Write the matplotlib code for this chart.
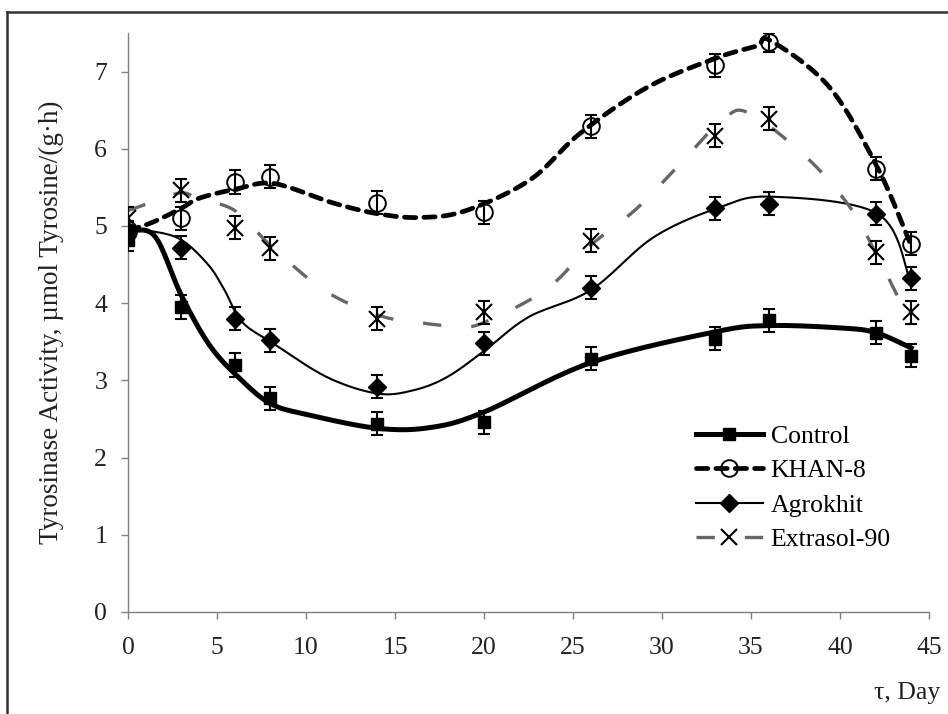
import matplotlib
matplotlib.use("Agg")
import matplotlib.pyplot as plt
from matplotlib.lines import Line2D
import numpy as np

plt.rcParams['font.family'] = ['Liberation Serif', 'DejaVu Serif']

# sampling days and measured values (markers)
days = [0, 3, 6, 8, 14, 20, 26, 33, 36, 42, 44]
control = [4.82, 3.95, 3.20, 2.77, 2.44, 2.46, 3.28, 3.54, 3.78, 3.62, 3.32]
khan8 = [4.92, 5.10, 5.57, 5.64, 5.30, 5.18, 6.29, 7.08, 7.38, 5.74, 4.77]
agrokhit = [4.93, 4.72, 3.80, 3.52, 2.92, 3.48, 4.20, 5.23, 5.29, 5.16, 4.32]
extrasol = [5.11, 5.46, 4.98, 4.71, 3.80, 3.88, 4.81, 6.17, 6.39, 4.66, 3.88]

control_err = [0.15, 0.15, 0.15, 0.15, 0.15, 0.15, 0.15, 0.15, 0.15, 0.15, 0.15]
khan8_err = [0.13, 0.15, 0.15, 0.15, 0.15, 0.15, 0.15, 0.15, 0.12, 0.15, 0.15]
agrokhit_err = [0.13, 0.15, 0.15, 0.15, 0.15, 0.15, 0.15, 0.15, 0.15, 0.15, 0.15]
extrasol_err = [0.13, 0.15, 0.15, 0.15, 0.15, 0.15, 0.15, 0.15, 0.15, 0.15, 0.15]

# trend curves (knots of the smoothed lines)
control_cx = [0, 1.5, 3, 4.6, 6.3, 8, 10, 14, 17, 20, 26, 33, 36, 40, 42, 44]
control_cy = [4.93, 4.87, 4.10, 3.45, 3.02, 2.70, 2.56, 2.38, 2.39, 2.59, 3.23, 3.63, 3.71, 3.68, 3.62, 3.42]

khan8_cx = [0, 1.4, 3, 4, 6.1, 8.2, 11.5, 14, 16.4, 19, 22.6, 25.4, 29.2, 33.1, 35.3, 36.1, 39.4, 42.1, 43.9]
khan8_cy = [4.94, 5.05, 5.23, 5.36, 5.48, 5.55, 5.30, 5.16, 5.11, 5.20, 5.60, 6.20, 6.80, 7.18, 7.33, 7.40, 6.80, 5.76, 4.80]

agrokhit_cx = [0, 1.4, 3, 4.5, 5.4, 6.4, 8.15, 11.2, 14, 16, 17.9, 20, 22.5, 26, 29.5, 33.1, 36.1, 42.1, 43.9]
agrokhit_cy = [4.94, 4.93, 4.82, 4.50, 4.18, 3.76, 3.48, 3.04, 2.83, 2.87, 3.04, 3.38, 3.82, 4.17, 4.85, 5.23, 5.38, 5.16, 4.33]

extrasol_cx = [0, 1.5, 3, 4, 6, 8, 11, 14, 16, 18.5, 20, 23.5, 26, 28.6, 31.2, 33.5, 35, 38.3, 40.7, 42, 43, 44]
extrasol_cy = [5.20, 5.32, 5.43, 5.35, 5.20, 4.75, 4.17, 3.85, 3.76, 3.70, 3.75, 4.18, 4.75, 5.23, 5.85, 6.40, 6.45, 5.85, 5.20, 4.65, 4.20, 3.72]

labels = ['Control', 'KHAN-8', 'Agrokhit', 'Extrasol-90']
x_ticks = [0, 5, 10, 15, 20, 25, 30, 35, 40, 45]
y_ticks = [0, 1, 2, 3, 4, 5, 6, 7]


def smooth(xs, ys, n=30):
    # Excel-like smoothed line: Bezier segments with Catmull-Rom control points
    p = np.column_stack([xs, ys]).astype(float)
    pe = np.vstack([p[0], p, p[-1]])
    t = np.linspace(0, 1, n)[:, None]
    out = []
    for i in range(len(p) - 1):
        p0, p1, p2, p3 = pe[i], pe[i + 1], pe[i + 2], pe[i + 3]
        c1 = p1 + (p2 - p0) / 6
        c2 = p2 - (p3 - p1) / 6
        seg = (1 - t) ** 3 * p1 + 3 * (1 - t) ** 2 * t * c1 + 3 * (1 - t) * t ** 2 * c2 + t ** 3 * p2
        out.append(seg if i == 0 else seg[1:])
    return np.vstack(out)


fig = plt.figure(figsize=(9.48, 7.14), dpi=100)
ax = fig.add_axes([128 / 948, 1 - 612 / 714, (929 - 128) / 948, (612 - 33) / 714])

styles = [
    dict(color='black', lw=3.6, ls='-'),
    dict(color='black', lw=3.4, ls=(0, (2.4, 1.7)), dash_capstyle='round'),
    dict(color='black', lw=1.5, ls='-'),
    dict(color='#666666', lw=2.4, ls=(0, (5.5, 9))),
]
markers = [
    dict(marker='s', ms=8, mfc='black', mec='black'),
    dict(marker='o', ms=12, mfc='none', mec='black', mew=1.4),
    dict(marker='D', ms=9, mfc='black', mec='black'),
    dict(marker='x', ms=11, mec='black', mew=1.5),
]

curves = [(control_cx, control_cy), (khan8_cx, khan8_cy),
          (agrokhit_cx, agrokhit_cy), (extrasol_cx, extrasol_cy)]
points = [(control, control_err), (khan8, khan8_err),
          (agrokhit, agrokhit_err), (extrasol, extrasol_err)]

for (cx, cy), st in zip(curves, styles):
    c = smooth(cx, cy)
    ax.plot(c[:, 0], c[:, 1], zorder=2, **st)

for (vals, err), mk in zip(points, markers):
    ax.errorbar(days, vals, yerr=err, fmt='none', ecolor='black',
                elinewidth=1.5, capsize=4.5, capthick=1.5, zorder=3)
    ax.plot(days, vals, ls='none', zorder=4, **mk)

ax.set_xlim(0, 45)
ax.set_ylim(0, 7.5)
ax.set_xticks(x_ticks)
ax.set_yticks(y_ticks)
for s in ['top', 'right']:
    ax.spines[s].set_visible(False)
for s in ['left', 'bottom']:
    ax.spines[s].set_color('#808080')
    ax.spines[s].set_linewidth(1.0)
ax.tick_params(axis='both', colors='#808080', labelcolor='#222222',
               direction='out', length=5, width=1.0, labelsize=18.5)
ax.tick_params(axis='x', pad=13)
ax.tick_params(axis='y', pad=10)

ax.set_ylabel('Tyrosinase Activity, µmol Tyrosine/(g·h)', fontsize=19.5,
              color='#222222', labelpad=22)
fig.text(940 / 948, 1 - 693 / 714, 'τ, Day', ha='right', va='center',
         fontsize=18.5, color='#222222')

handles = [Line2D([0], [0], **st, **mk) for st, mk in zip(styles, markers)]
ax.legend(handles, labels, loc='center left', frameon=False, fontsize=18.5,
          bbox_to_anchor=(696 / 948, 1 - 488 / 714),
          bbox_transform=fig.transFigure, borderpad=0, borderaxespad=0,
          handlelength=2.6, handletextpad=0.3, labelspacing=0.45,
          numpoints=1)

# outer frame (left and top edges visible)
fig.add_artist(Line2D([7 / 948, 7 / 948], [0, 1 - 12 / 714],
                      transform=fig.transFigure, color='#333333', lw=1.8))
fig.add_artist(Line2D([7 / 948, 1], [1 - 12 / 714, 1 - 12 / 714],
                      transform=fig.transFigure, color='#333333', lw=1.8))

fig.savefig('out.png', dpi=100)
